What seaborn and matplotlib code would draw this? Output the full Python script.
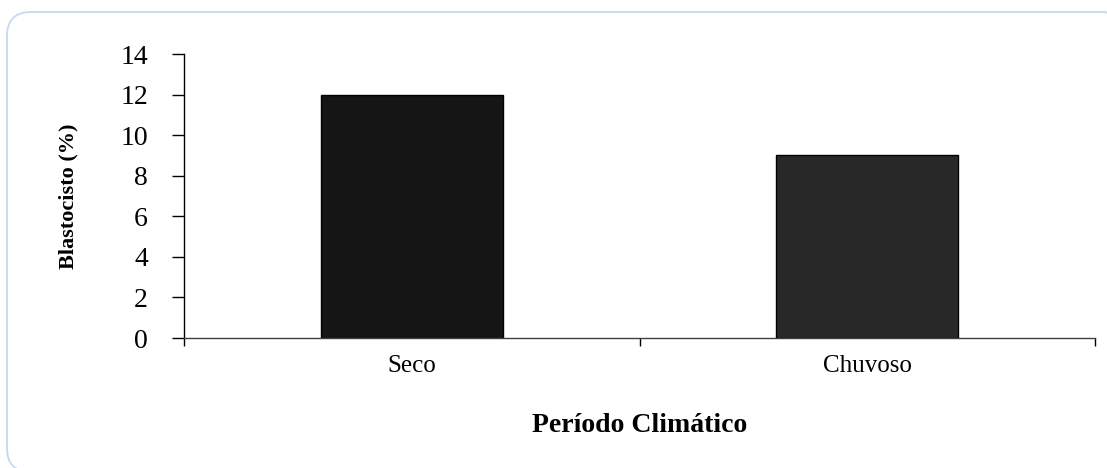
import numpy as np
import pandas as pd
import matplotlib
matplotlib.use("Agg")
import matplotlib.pyplot as plt
from matplotlib.patches import FancyBboxPatch
from matplotlib.transforms import IdentityTransform
import seaborn as sns

# ========== DATA ==========
periodos = ["Seco", "Chuvoso"]
blastocisto = [12, 9]
y_ticks = [0, 2, 4, 6, 8, 10, 12, 14]
bar_colors = ["#151515", "#282828"]

sns.set_theme(style="white")
plt.rcParams["font.family"] = ["Liberation Serif", "DejaVu Serif"]
plt.rcParams["text.color"] = "black"
plt.rcParams["axes.labelcolor"] = "black"
plt.rcParams["xtick.color"] = "black"
plt.rcParams["ytick.color"] = "black"

df = pd.DataFrame({"periodo": periodos, "blastocisto": blastocisto})

W, H = 1107, 468
fig = plt.figure(figsize=(W / 100, H / 100), dpi=100)
ax = fig.add_axes([184 / W, 130 / H, 911 / W, 284 / H])

# rounded light-blue frame (pixel coords), cut off on the right and bottom
frame = FancyBboxPatch((7, -4), 1122, 460,
                       boxstyle="round,pad=0,rounding_size=24",
                       transform=IdentityTransform(), facecolor="none",
                       edgecolor="#c6d9f1", linewidth=1.3)
fig.patches.append(frame)

sns.barplot(data=df, x="periodo", y="blastocisto", hue="periodo",
            palette=bar_colors, legend=False, ax=ax, width=0.4,
            edgecolor="black", linewidth=1, saturation=1)

ax.set_xlim(-0.5, 1.5)
ax.set_ylim(0, 14)
ax.set_yticks(y_ticks)
ax.tick_params(axis="y", direction="out", length=9, width=1, color="black",
               labelsize=20, pad=17, left=True)
ax.tick_params(axis="x", which="major", length=0, labelsize=18, pad=12)
ax.set_xticks([-0.5, 0.5, 1.5], minor=True)
ax.tick_params(axis="x", which="minor", direction="out", length=6, width=1,
               color="black", bottom=True)

sns.despine(ax=ax)
ax.spines["left"].set_color("black")
ax.spines["bottom"].set_color("#404040")
ax.spines["left"].set_linewidth(1)
ax.spines["bottom"].set_linewidth(1)

ax.set_xlabel("Período Climático", fontsize=20, fontweight="bold", labelpad=26)
ax.set_ylabel("Blastocisto (%)", fontsize=16, fontweight="bold", labelpad=30)

fig.savefig("out.png", dpi=100)
